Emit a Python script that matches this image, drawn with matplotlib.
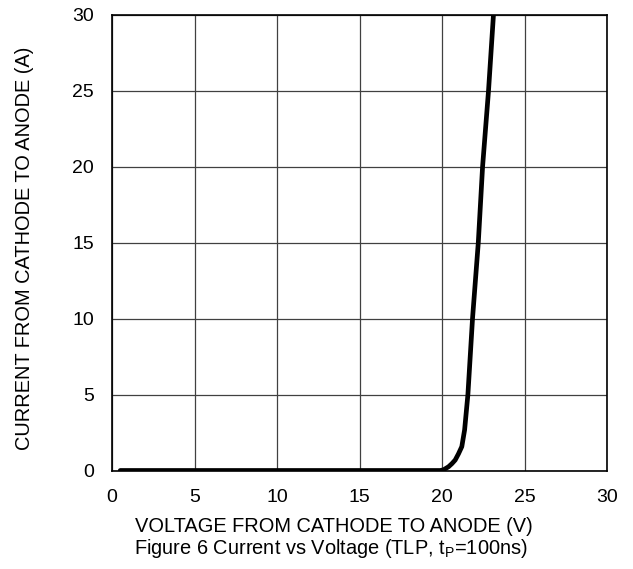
import numpy as np
import matplotlib
matplotlib.use("Agg")
import matplotlib.pyplot as plt

plt.rcParams['font.family'] = ['Liberation Sans', 'DejaVu Sans']
plt.rcParams['mathtext.fontset'] = 'custom'
plt.rcParams['mathtext.rm'] = 'Liberation Sans'
plt.rcParams['mathtext.it'] = 'Liberation Sans'

# TLP I-V curve
voltage = [0.5, 5, 10, 15, 19.9, 20.1, 20.4, 20.6, 20.8, 21.0, 21.2, 21.37,
           21.57, 21.85, 22.2, 22.46, 22.82, 23.12]
current = [0, 0, 0, 0, 0, 0.05, 0.25, 0.45, 0.69, 1.1, 1.57, 2.67,
           5.0, 10.0, 15.0, 20.0, 25.0, 30.0]

x_ticks = [0, 5, 10, 15, 20, 25, 30]
y_ticks = [0, 5, 10, 15, 20, 25, 30]

fig = plt.figure(figsize=(6.33, 5.69), dpi=100)
ax = fig.add_axes([112 / 633, 1 - 470.5 / 569, 495 / 633, 456 / 569])

ax.plot(voltage, current, color='black', lw=3.4, solid_capstyle='round')

ax.set_xlim(0, 30)
ax.set_ylim(0, 30)
ax.set_xticks(x_ticks)
ax.set_yticks(y_ticks)
ax.grid(True, color='#404040', lw=0.9)
ax.set_axisbelow(True)
ax.tick_params(length=0, labelsize=14, pad=13)
for s in ax.spines.values():
    s.set_color('black')
    s.set_linewidth(1.2)

# axis titles and caption placed as in the reference
fig.text(334 / 633, 1 - 532 / 569, 'VOLTAGE FROM CATHODE TO ANODE (V)',
         fontsize=14.4, ha='center', va='baseline')
fig.text(331 / 633, 1 - 554 / 569, r'Figure 6 Current vs Voltage (TLP, t$_{\mathrm{P}}$=100ns)',
         fontsize=14.4, ha='center', va='baseline')
fig.text(25 / 633, 1 - 248 / 569, 'CURRENT FROM CATHODE TO ANODE (A)',
         fontsize=14.4, ha='center', va='center', rotation=90)

fig.savefig('out.png', dpi=100)
